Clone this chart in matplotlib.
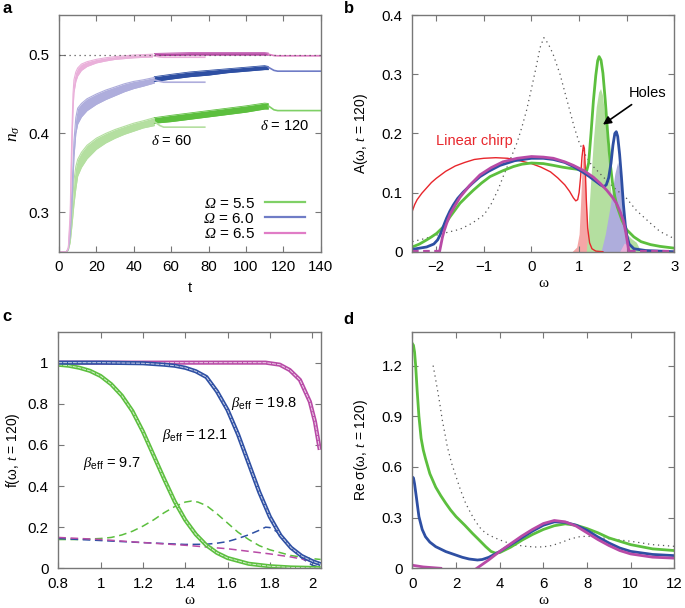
import matplotlib
matplotlib.use("Agg")
import matplotlib.pyplot as plt
from matplotlib.ticker import FuncFormatter

plt.rcParams['font.family'] = ['Liberation Sans', 'DejaVu Sans']
plt.rcParams['mathtext.fontset'] = 'custom'
plt.rcParams['mathtext.rm'] = 'Liberation Sans'
plt.rcParams['mathtext.sf'] = 'Liberation Sans'
plt.rcParams['mathtext.it'] = 'Liberation Serif:italic'
# \mathbf is only used for the italic Omega in the legend
plt.rcParams['mathtext.bf'] = 'Liberation Serif:italic'

GREEN, BLUE, PINK, RED = '#5cbf3e', '#2e4fa3', '#b84aa6', '#e8262c'
GREEN_L, BLUE_L, PINK_L, RED_L = '#b4dfa0', '#aeaddc', '#eab0da', '#f5a6a6'
GRAY = '#555555'

# ---- panel a : n_sigma(t) ----
t_rise_g = [0, 4, 5, 6, 7, 8, 9, 10, 12, 15, 20, 25, 30, 35, 40, 45, 51]
hi_rise_g = [0.25, 0.25, 0.253, 0.268, 0.30, 0.34, 0.358, 0.367, 0.376, 0.385, 0.394, 0.400, 0.405, 0.409, 0.413, 0.416, 0.420]
lo_rise_g = [0.25, 0.25, 0.252, 0.262, 0.285, 0.31, 0.33, 0.346, 0.357, 0.368, 0.380, 0.388, 0.394, 0.399, 0.403, 0.407, 0.410]
t_rise_b = [0, 4, 5, 6, 7, 8, 9, 10, 12, 15, 20, 25, 30, 35, 40, 45, 51]
hi_rise_b = [0.25, 0.25, 0.254, 0.28, 0.33, 0.39, 0.42, 0.432, 0.438, 0.444, 0.450, 0.455, 0.459, 0.463, 0.466, 0.468, 0.471]
lo_rise_b = [0.25, 0.25, 0.253, 0.27, 0.31, 0.37, 0.40, 0.412, 0.421, 0.429, 0.437, 0.443, 0.448, 0.453, 0.457, 0.460, 0.464]
t_rise_p = [0, 4, 5, 6, 6.5, 7, 7.5, 8, 9, 10, 12, 15, 20, 25, 30, 40, 50]
hi_rise_p = [0.25, 0.25, 0.255, 0.30, 0.36, 0.41, 0.45, 0.468, 0.478, 0.483, 0.488, 0.491, 0.494, 0.496, 0.4975, 0.4995, 0.5005]
lo_rise_p = [0.25, 0.25, 0.254, 0.29, 0.34, 0.39, 0.43, 0.452, 0.466, 0.473, 0.480, 0.485, 0.4895, 0.492, 0.494, 0.496, 0.497]

t_mid = [51, 60, 70, 80, 90, 100, 110, 112]
hi_mid_g = [0.420, 0.423, 0.426, 0.429, 0.432, 0.435, 0.4385, 0.438]
lo_mid_g = [0.413, 0.415, 0.418, 0.421, 0.424, 0.427, 0.431, 0.431]
hi_mid_b = [0.472, 0.475, 0.478, 0.480, 0.482, 0.484, 0.486, 0.485]
lo_mid_b = [0.466, 0.469, 0.472, 0.474, 0.477, 0.479, 0.481, 0.481]
hi_mid_p = [0.5015, 0.502, 0.5025, 0.5025, 0.5025, 0.5025, 0.5025, 0.502]
lo_mid_p = [0.4985, 0.499, 0.4995, 0.4995, 0.4995, 0.4995, 0.4995, 0.4995]

t_tail = [112, 115, 117, 140]
tail_g = [0.435, 0.430, 0.429, 0.429]
tail_b = [0.484, 0.480, 0.479, 0.479]
tail_p = [0.5005, 0.4988, 0.4985, 0.4985]

t_d60 = [51, 54, 56, 78]
d60_g = [0.415, 0.410, 0.408, 0.408]
d60_b = [0.468, 0.466, 0.465, 0.465]
d60_p = [0.4985, 0.4970, 0.4967, 0.4967]

omega_labels = ['5.5', '6.0', '6.5']

# ---- panel b : spectral function ----
w_dot_b = [-2.5, -2.2, -2.0, -1.75, -1.5, -1.25, -1.0, -0.85, -0.7, -0.58, -0.45, -0.3, -0.2, -0.1, 0.0, 0.1,
           0.18, 0.26, 0.35, 0.45, 0.6, 0.7, 0.8, 0.9, 1.0, 1.1, 1.25, 1.5, 1.75, 2.0, 2.2, 2.35, 2.5, 2.7, 3.0]
A_dot_b = [0.017, 0.023, 0.028, 0.033, 0.038, 0.048, 0.062, 0.08, 0.105, 0.13, 0.155, 0.185, 0.211, 0.24, 0.276, 0.313,
           0.345, 0.362, 0.352, 0.335, 0.30, 0.27, 0.24, 0.21, 0.185, 0.168, 0.148, 0.127, 0.107, 0.09, 0.07, 0.059, 0.048, 0.034, 0.022]

w_red = [-2.5, -2.45, -2.4, -2.3, -2.2, -2.1, -2.0, -1.8, -1.6, -1.4, -1.2, -1.0, -0.75, -0.5, -0.25, 0.0, 0.2, 0.4,
         0.55, 0.7, 0.8, 0.88, 0.93, 0.97, 1.0, 1.03, 1.06, 1.09, 1.11, 1.13, 1.15, 1.18, 1.22, 1.27, 1.35, 1.5]
A_red = [0.069, 0.08, 0.088, 0.099, 0.108, 0.117, 0.124, 0.136, 0.145, 0.151, 0.156, 0.158, 0.159, 0.158, 0.154, 0.149, 0.143, 0.135,
         0.125, 0.113, 0.102, 0.091, 0.086, 0.088, 0.10, 0.125, 0.16, 0.18, 0.175, 0.14, 0.09, 0.04, 0.015, 0.005, 0.001, 0.0]

w_grn = [-2.5, -2.35, -2.2, -2.1, -1.99, -1.85, -1.71, -1.6, -1.5, -1.35, -1.22, -1.05, -0.87, -0.6, -0.38, -0.2, 0.0,
         0.25, 0.46, 0.65, 0.81, 1.0, 1.1, 1.16, 1.2, 1.25, 1.3, 1.35, 1.39, 1.42, 1.46, 1.5, 1.55, 1.6, 1.65, 1.7,
         1.75, 1.8, 1.9, 2.0, 2.15, 2.3, 2.5, 2.7, 3.0]
A_grn = [0.008, 0.013, 0.02, 0.025, 0.031, 0.042, 0.059, 0.071, 0.082, 0.094, 0.104, 0.116, 0.127, 0.137, 0.144, 0.148, 0.150,
         0.149, 0.146, 0.143, 0.141, 0.139, 0.136, 0.137, 0.15, 0.20, 0.255, 0.298, 0.323, 0.33, 0.324, 0.302, 0.255, 0.20, 0.152, 0.117,
         0.093, 0.076, 0.053, 0.037, 0.025, 0.017, 0.012, 0.009, 0.006]

w_blu = [-2.5, -2.2, -2.05, -1.97, -1.92, -1.88, -1.83, -1.78, -1.71, -1.64, -1.55, -1.43, -1.25, -1.08, -0.9, -0.66,
         -0.35, 0.0, 0.25, 0.46, 0.7, 0.88, 1.05, 1.2, 1.35, 1.45, 1.52, 1.57, 1.62, 1.67, 1.71, 1.75, 1.78, 1.81, 1.85,
         1.89, 1.93, 1.97, 2.0, 2.05, 2.15, 2.4, 3.0]
A_blu = [0.004, 0.008, 0.013, 0.02, 0.028, 0.036, 0.047, 0.057, 0.069, 0.079, 0.09, 0.101, 0.115, 0.127, 0.136, 0.146,
         0.154, 0.158, 0.158, 0.156, 0.151, 0.144, 0.136, 0.128, 0.119, 0.113, 0.11, 0.113, 0.125, 0.15, 0.18, 0.2, 0.203, 0.195, 0.165,
         0.125, 0.08, 0.045, 0.028, 0.013, 0.005, 0.002, 0.0]

w_pur = [-1.93, -1.9, -1.87, -1.83, -1.78, -1.71, -1.62, -1.5, -1.3, -1.08, -0.85, -0.6, -0.3, 0.0, 0.25, 0.46, 0.7,
         0.88, 1.1, 1.3, 1.45, 1.58, 1.7, 1.79, 1.87, 1.93, 1.98, 2.01, 2.03, 2.05]
A_pur = [0.0, 0.012, 0.024, 0.036, 0.048, 0.063, 0.076, 0.092, 0.112, 0.13, 0.142, 0.152, 0.158, 0.161, 0.16, 0.158, 0.152,
         0.146, 0.137, 0.126, 0.115, 0.104, 0.092, 0.081, 0.066, 0.052, 0.033, 0.018, 0.008, 0.0]
w_pur_lo = [-2.5, -1.93]
w_pur_hi = [2.05, 3.0]

w_fill_red = [0.85, 0.95, 1.0, 1.03, 1.06, 1.09, 1.11, 1.13, 1.15, 1.18, 1.22, 1.3]
A_fill_red = [0.0, 0.008, 0.03, 0.08, 0.14, 0.172, 0.17, 0.13, 0.085, 0.035, 0.01, 0.0]
w_fill_grn = [1.15, 1.18, 1.21, 1.26, 1.30, 1.36, 1.41, 1.45, 1.49, 1.54, 1.59, 1.63, 1.70, 1.8, 1.9, 2.0, 2.1, 2.2, 2.3]
A_fill_grn = [0.0, 0.03, 0.076, 0.14, 0.189, 0.245, 0.27, 0.276, 0.265, 0.23, 0.18, 0.13, 0.076, 0.05, 0.038, 0.03, 0.022, 0.016, 0.0]
w_fill_blu = [1.46, 1.55, 1.65, 1.75, 1.81, 1.86, 1.92, 1.97, 2.02]
A_fill_blu = [0.0, 0.03, 0.076, 0.132, 0.152, 0.13, 0.076, 0.03, 0.0]
w_fill_pur = [1.85, 1.95, 2.02, 2.06]
A_fill_pur = [0.0, 0.015, 0.01, 0.0]

# ---- panel c : distribution functions ----
w_c = [0.8, 0.85, 0.9, 0.95, 1.0, 1.05, 1.1, 1.15, 1.2, 1.25, 1.3, 1.35, 1.4, 1.45, 1.5, 1.55, 1.6, 1.7, 1.8, 1.9, 2.04]
f_grn = [0.99, 0.985, 0.975, 0.96, 0.935, 0.895, 0.84, 0.765, 0.665, 0.55, 0.435, 0.325, 0.235, 0.165, 0.112, 0.075, 0.05,
         0.022, 0.01, 0.004, 0.001]
w_c_b = [0.8, 1.0, 1.2, 1.3, 1.35, 1.4, 1.45, 1.5, 1.55, 1.6, 1.65, 1.7, 1.75, 1.8, 1.85, 1.9, 1.95, 2.0, 2.04]
f_blu = [1.0, 1.0, 0.997, 0.99, 0.985, 0.975, 0.958, 0.93, 0.86, 0.77, 0.65, 0.51, 0.37, 0.25, 0.16, 0.10, 0.06, 0.035, 0.02]
w_c_p = [0.8, 1.2, 1.5, 1.78, 1.847, 1.894, 1.942, 1.989, 2.013, 2.036]
f_pur = [1.0, 1.0, 1.0, 1.0, 0.99, 0.964, 0.916, 0.81, 0.713, 0.576]

w_cd = [0.8, 0.9, 1.0, 1.05, 1.1, 1.15, 1.2, 1.25, 1.3, 1.35, 1.4, 1.43, 1.46, 1.5, 1.55, 1.6, 1.65, 1.7, 1.75, 1.8, 1.9, 2.0, 2.04]
fd_grn = [0.14, 0.14, 0.145, 0.15, 0.162, 0.18, 0.205, 0.235, 0.27, 0.30, 0.322, 0.327, 0.322, 0.305, 0.265, 0.22, 0.175,
          0.14, 0.11, 0.09, 0.062, 0.047, 0.043]
w_cd_b = [0.8, 1.0, 1.2, 1.4, 1.5, 1.55, 1.6, 1.65, 1.7, 1.75, 1.78, 1.8, 1.83, 1.86, 1.9, 1.95, 2.0, 2.04]
fd_blu = [0.145, 0.135, 0.125, 0.116, 0.117, 0.122, 0.13, 0.145, 0.163, 0.185, 0.2, 0.198, 0.18, 0.15, 0.10, 0.05, 0.015, 0.005]
w_cd_p = [0.8, 1.0, 1.2, 1.4, 1.6, 1.8, 1.9, 2.0, 2.04]
fd_pur = [0.15, 0.14, 0.125, 0.112, 0.095, 0.07, 0.055, 0.035, 0.025]

beta_labels = ['9.7', '12.1', '19.8']

# ---- panel d : optical conductivity ----
w_d_g = [0.0, 0.05, 0.1, 0.15, 0.22, 0.3, 0.4, 0.5, 0.6, 0.8, 1.07, 1.3, 1.53, 1.75, 2.0, 2.4, 2.75, 3.0, 3.36, 3.6, 3.8,
         4.0, 4.5, 5.04, 5.5, 6.0, 6.5, 7.0, 7.5, 8.0, 8.5, 9.0, 9.5, 10.0, 11.0, 12.0]
s_grn = [1.33, 1.32, 1.28, 1.2, 1.05, 0.9, 0.77, 0.7, 0.65, 0.56, 0.48, 0.43, 0.385, 0.345, 0.306, 0.255, 0.207, 0.175,
         0.128, 0.10, 0.09, 0.093, 0.125, 0.168, 0.20, 0.23, 0.252, 0.263, 0.255, 0.235, 0.21, 0.18, 0.16, 0.14, 0.115, 0.105]
w_d_b = [0.0, 0.05, 0.1, 0.18, 0.3, 0.45, 0.6, 0.8, 1.07, 1.53, 2.0, 2.29, 2.6, 2.98, 3.2, 3.5, 4.0, 4.5, 5.0, 5.5, 6.0,
         6.5, 7.0, 7.5, 8.0, 8.5, 9.0, 9.5, 10.0, 11.0, 12.0]
s_blu = [0.54, 0.535, 0.5, 0.424, 0.306, 0.23, 0.187, 0.155, 0.128, 0.099, 0.078, 0.065, 0.055, 0.049, 0.052, 0.065, 0.099,
         0.14, 0.18, 0.22, 0.255, 0.275, 0.272, 0.255, 0.225, 0.185, 0.15, 0.12, 0.10, 0.082, 0.075]
w_d_p1 = [0.0, 0.5, 1.3]
s_pur1 = [0.018, 0.008, 0.0]
w_d_p2 = [2.95, 3.5, 4.0, 4.5, 5.0, 5.5, 6.0, 6.5, 7.0, 7.5, 8.0, 8.5, 9.0, 9.5, 10.0, 11.0, 12.0]
s_pur2 = [0.0, 0.05, 0.1, 0.145, 0.19, 0.23, 0.265, 0.283, 0.275, 0.25, 0.21, 0.17, 0.135, 0.105, 0.085, 0.066, 0.06]
w_d_dot = [0.95, 1.05, 1.15, 1.25, 1.37, 1.5, 1.6, 1.8, 2.0, 2.2, 2.44, 2.7, 2.9, 3.1, 3.36, 3.7, 4.0, 4.4, 4.73, 5.2,
           5.65, 6.0, 6.4, 6.8, 7.2, 7.6, 8.0, 8.5, 9.0, 10.0, 11.0, 12.0]
s_dot = [1.2, 1.13, 1.056, 0.98, 0.878, 0.79, 0.72, 0.62, 0.543, 0.465, 0.385, 0.32, 0.276, 0.24, 0.207, 0.185, 0.168,
         0.15, 0.138, 0.13, 0.126, 0.127, 0.135, 0.152, 0.172, 0.186, 0.19, 0.183, 0.175, 0.16, 0.14, 0.13]


def style(ax):
    for s in ax.spines.values():
        s.set_color('#777777')
        s.set_linewidth(1.0)
    ax.tick_params(direction='in', top=True, right=True, length=4, width=0.8,
                   color='#777777', labelsize=10.8)
    ax.tick_params(axis='x', pad=6)
    ax.tick_params(axis='y', pad=7)
    ax.xaxis.set_major_formatter(FuncFormatter(lambda v, p: f'{v:g}'.replace('-', '\u2212')))
    ax.yaxis.set_major_formatter(FuncFormatter(lambda v, p: f'{v:g}'))


fig = plt.figure(figsize=(6.85, 6.08), dpi=100)
ax_a = fig.add_axes([0.0861, 0.586, 0.382, 0.389])
ax_b = fig.add_axes([0.602, 0.586, 0.3825, 0.389])
ax_c = fig.add_axes([0.0851, 0.0653, 0.383, 0.389])
ax_d = fig.add_axes([0.602, 0.0653, 0.3825, 0.389])

# panel a
ax = ax_a
ax.axhline(0.5, color=GRAY, lw=0.9, ls=(0, (1, 3)), zorder=5)
sets = [
    (t_rise_g, lo_rise_g, hi_rise_g, lo_mid_g, hi_mid_g, tail_g, d60_g, GREEN, GREEN_L, '#7fd066'),
    (t_rise_b, lo_rise_b, hi_rise_b, lo_mid_b, hi_mid_b, tail_b, d60_b, BLUE, BLUE_L, '#6f7cc6'),
    (t_rise_p, lo_rise_p, hi_rise_p, lo_mid_p, hi_mid_p, tail_p, d60_p, PINK, PINK_L, '#e07cc6'),
]
for (tr, lo, hi, lom, him, tl, d60, c, cl, cm), lab in zip(sets, omega_labels):
    ax.fill_between(tr, lo, hi, color=cl, lw=0)
    ax.plot(tr, lo, color=cl, lw=0.8)
    ax.plot(tr, hi, color=cl, lw=0.8)
    ax.fill_between(t_mid, lom, him, color=c, lw=0)
    ax.plot(t_mid, lom, color=c, lw=0.6)
    ax.plot(t_mid, him, color=c, lw=0.6)
    ax.plot(t_tail, tl, color=cm, lw=1.2)
    ax.plot(t_d60, d60, color=cl, lw=1.2)
    ax.plot([], [], color=cm, lw=1.6, label=rf'$\mathbf{{\Omega}}$ = {lab}')
ax.text(49.5, 0.391, r'$\delta$ = 60', fontsize=10.5, va='center')
ax.text(107.5, 0.410, r'$\delta$ = 120', fontsize=10.5, va='center')
ax.legend(loc='lower right', bbox_to_anchor=(0.94, 0.045), frameon=False, markerfirst=False,
          handlelength=2.6, handletextpad=0.7, labelspacing=0.08, borderpad=0, borderaxespad=0,
          fontsize=11)
ax.set_xlim(0, 140)
ax.set_ylim(0.25, 0.55)
ax.set_xticks(range(0, 141, 20))
ax.set_yticks([0.3, 0.4, 0.5])
ax.set_xlabel('t', fontsize=10.5)
ax.set_ylabel(r'$n_\sigma$', fontsize=12.5)
style(ax)

# panel b
ax = ax_b
ax.plot(w_dot_b, A_dot_b, color=GRAY, lw=0.9, ls=(0, (1, 3)))
ax.fill_between(w_fill_red, 0, A_fill_red, color=RED_L, lw=0)
ax.fill_between(w_fill_grn, 0, A_fill_grn, color=GREEN_L, lw=0)
ax.fill_between(w_fill_blu, 0, A_fill_blu, color=BLUE_L, lw=0)
ax.fill_between(w_fill_pur, 0, A_fill_pur, color=PINK_L, lw=0)
ax.plot(w_red, A_red, color=RED, lw=1.0)
ax.plot(w_grn, A_grn, color=GREEN, lw=2.0)
ax.plot(w_blu, A_blu, color=BLUE, lw=2.0)
ax.plot(w_pur, A_pur, color=PINK, lw=2.0)
ax.plot(w_pur_lo, [0.002, 0.002], color=PINK, lw=1.6, ls=(0, (3, 2)))
ax.plot(w_pur_hi, [0.002, 0.002], color=PINK, lw=1.6, ls=(0, (3, 2)))
ax.text(-2.0, 0.188, 'Linear chirp', color=RED, fontsize=10.5, va='center')
ax.annotate('Holes', xy=(1.5, 0.215), xytext=(2.05, 0.268), fontsize=10.5, va='center',
            arrowprops=dict(arrowstyle='-|>', color='black', lw=1.2, shrinkA=2, shrinkB=0,
                            mutation_scale=12))
ax.set_xlim(-2.5, 3)
ax.set_ylim(0, 0.4)
ax.set_xticks(range(-2, 4))
ax.set_yticks([0, 0.1, 0.2, 0.3, 0.4])
ax.set_xlabel('ω', fontsize=11, family='Liberation Serif')
ax.set_ylabel(r'A(ω, $t$ = 120)', fontsize=10)
style(ax)

# panel c
ax = ax_c
for w, f, c in [(w_cd, fd_grn, GREEN), (w_cd_b, fd_blu, BLUE), (w_cd_p, fd_pur, PINK)]:
    ax.plot(w, f, color=c, lw=1.1, ls=(0, (5, 3)))
for w, f, c in [(w_c_p, f_pur, PINK), (w_c, f_grn, GREEN), (w_c_b, f_blu, BLUE)]:
    ax.plot(w, f, color=c, lw=3.0, solid_capstyle='butt')
    ax.plot(w, f, color='white', lw=0.7, alpha=0.75, ls=(0, (4, 1)))
ax.text(0.918, 0.51, r'$\beta_{\rm eff}$ = ' + beta_labels[0], fontsize=10.5, va='center')
ax.text(1.29, 0.645, r'$\beta_{\rm eff}$ = ' + beta_labels[1], fontsize=10.5, va='center')
ax.text(1.618, 0.80, r'$\beta_{\rm eff}$ = ' + beta_labels[2], fontsize=10.5, va='center')
ax.set_xlim(0.8, 2.04)
ax.set_ylim(0, 1.15)
ax.set_xticks([0.8, 1.0, 1.2, 1.4, 1.6, 1.8, 2.0])
ax.set_yticks([0, 0.2, 0.4, 0.6, 0.8, 1.0])
ax.set_xlabel('ω', fontsize=11, family='Liberation Serif')
ax.set_ylabel(r'f(ω, $t$ = 120)', fontsize=10)
style(ax)

# panel d
ax = ax_d
ax.plot(w_d_dot, s_dot, color=GRAY, lw=0.9, ls=(0, (1, 3)))
ax.plot(w_d_g, s_grn, color=GREEN, lw=2.0)
ax.plot(w_d_b, s_blu, color=BLUE, lw=2.0)
ax.plot(w_d_p1, s_pur1, color=PINK, lw=2.0)
ax.plot(w_d_p2, s_pur2, color=PINK, lw=2.0)
ax.set_xlim(0, 12)
ax.set_ylim(0, 1.4)
ax.set_xticks(range(0, 13, 2))
ax.set_yticks([0, 0.3, 0.6, 0.9, 1.2])
ax.set_xlabel('ω', fontsize=11, family='Liberation Serif')
ax.set_ylabel('Re σ(ω, $t$ = 120)', fontsize=10)
style(ax)

for a in (ax_a, ax_c):
    a.yaxis.set_label_coords(-0.14, 0.5)
for a in (ax_b, ax_d):
    a.yaxis.set_label_coords(-0.163, 0.5)
ax_a.xaxis.set_label_coords(0.5, -0.125)
ax_b.xaxis.set_label_coords(0.5, -0.105)
for a in (ax_c, ax_d):
    a.xaxis.set_label_coords(0.5, -0.11)

for x, y, s in [(0.003, 0.998, 'a'), (0.502, 0.998, 'b'), (0.003, 0.492, 'c'), (0.502, 0.487, 'd')]:
    fig.text(x, y, s, fontsize=12, fontweight='bold', va='top')

fig.savefig('out.png', dpi=100)
